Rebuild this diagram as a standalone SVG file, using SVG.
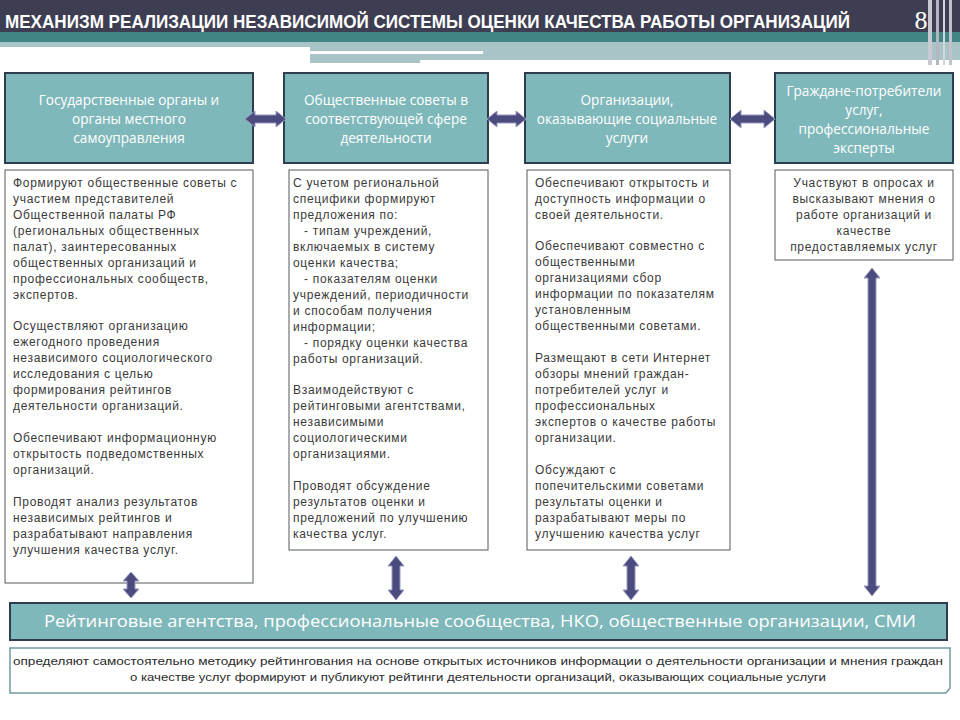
<svg xmlns="http://www.w3.org/2000/svg" width="960" height="720" viewBox="0 0 960 720">
<defs>
<style>
.hdr{fill:#7fb8bb;stroke:#2e3d4f;stroke-width:2}
.htx{font-family:"Open Sans","Liberation Sans",sans-serif;font-size:13.6px;fill:#ffffff;text-anchor:middle}
.box{fill:#ffffff;stroke:#555a60;stroke-width:1}
.btx{font-family:"Liberation Sans",Arial,sans-serif;font-size:12px;letter-spacing:0.7px;fill:#3a3a3a}
.arr{fill:#4b4b7e;stroke:#9a9ac4;stroke-width:1}
</style>
</defs>
<rect x="0" y="0" width="960" height="720" fill="#ffffff"/>
<!-- header -->
<g id="header">
<rect x="0" y="0" width="960" height="33" fill="#3e3e52"/>
<rect x="0" y="32" width="960" height="10" fill="#428585"/>
<rect x="0" y="42" width="310" height="5" fill="#a9c4c6"/>
<rect x="310" y="42" width="650" height="21" fill="#a9c4c6"/>
<rect x="310" y="51" width="173" height="3" fill="#ffffff"/>
<rect x="420" y="60" width="540" height="5" fill="#ffffff"/>
<rect x="928" y="0" width="4" height="65" fill="#c9c9d3"/>
<rect x="936" y="0" width="3" height="65" fill="#b6b6c2"/>
<rect x="943" y="0" width="2" height="65" fill="#d5d5dd"/>
<rect x="949" y="0" width="3" height="65" fill="#c2c2cc"/>
<text x="5" y="28" font-family="'Liberation Sans Narrow','Liberation Sans',Arial,sans-serif" font-weight="bold" font-size="18" fill="#ffffff" textLength="845" lengthAdjust="spacingAndGlyphs">МЕХАНИЗМ РЕАЛИЗАЦИИ НЕЗАВИСИМОЙ СИСТЕМЫ ОЦЕНКИ КАЧЕСТВА РАБОТЫ ОРГАНИЗАЦИЙ</text>
<text x="921" y="29" font-family="'Liberation Serif',serif" font-size="26" fill="#ffffff" text-anchor="middle">8</text>
</g>
<!-- top nodes -->
<g id="node-gov">
<rect class="hdr" x="5" y="73" width="248" height="90"/>
<text class="htx" x="129" y="105">Государственные органы и</text>
<text class="htx" x="129" y="124">органы местного</text>
<text class="htx" x="129" y="143">самоуправления</text>
</g>
<g id="node-councils">
<rect class="hdr" x="284" y="73" width="204" height="90"/>
<text class="htx" x="386" y="105">Общественные советы в</text>
<text class="htx" x="386" y="124">соответствующей сфере</text>
<text class="htx" x="386" y="143">деятельности</text>
</g>
<g id="node-orgs">
<rect class="hdr" x="525" y="73" width="205" height="90"/>
<text class="htx" x="627" y="105">Организации,</text>
<text class="htx" x="627" y="124">оказывающие социальные</text>
<text class="htx" x="627" y="143">услуги</text>
</g>
<g id="node-citizens">
<rect class="hdr" x="775" y="73" width="178" height="90"/>
<text class="htx" x="864" y="96">Граждане-потребители</text>
<text class="htx" x="864" y="115">услуг,</text>
<text class="htx" x="864" y="134">профессиональные</text>
<text class="htx" x="864" y="153">эксперты</text>
</g>
<!-- description boxes -->
<g id="desc-gov">
<rect class="box" x="5" y="170" width="248" height="413"/>
<text class="btx" x="13" y="187">Формируют общественные советы  с</text>
<text class="btx" x="13" y="203">участием представителей</text>
<text class="btx" x="13" y="219">Общественной палаты РФ</text>
<text class="btx" x="13" y="235">(региональных общественных</text>
<text class="btx" x="13" y="251">палат), заинтересованных</text>
<text class="btx" x="13" y="267">общественных организаций и</text>
<text class="btx" x="13" y="283">профессиональных сообществ,</text>
<text class="btx" x="13" y="299">экспертов.</text>
<text class="btx" x="13" y="330">Осуществляют организацию</text>
<text class="btx" x="13" y="346">ежегодного проведения</text>
<text class="btx" x="13" y="362">независимого социологического</text>
<text class="btx" x="13" y="378">исследования с целью</text>
<text class="btx" x="13" y="394">формирования рейтингов</text>
<text class="btx" x="13" y="410">деятельности организаций.</text>
<text class="btx" x="13" y="442">Обеспечивают информационную</text>
<text class="btx" x="13" y="458">открытость подведомственных</text>
<text class="btx" x="13" y="474">организаций.</text>
<text class="btx" x="13" y="506">Проводят анализ результатов</text>
<text class="btx" x="13" y="522">независимых  рейтингов и</text>
<text class="btx" x="13" y="538">разрабатывают направления</text>
<text class="btx" x="13" y="554">улучшения качества услуг.</text>
</g>
<g id="desc-councils">
<rect class="box" x="289" y="170" width="199" height="380"/>
<text class="btx" x="293" y="187">С учетом региональной</text>
<text class="btx" x="293" y="203">специфики формируют</text>
<text class="btx" x="293" y="219">предложения по:</text>
<text class="btx" x="304" y="235">- типам учреждений,</text>
<text class="btx" x="293" y="251">включаемых в систему</text>
<text class="btx" x="293" y="267">оценки качества;</text>
<text class="btx" x="304" y="283">- показателям оценки</text>
<text class="btx" x="293" y="299">учреждений, периодичности</text>
<text class="btx" x="293" y="315">и способам получения</text>
<text class="btx" x="293" y="331">информации;</text>
<text class="btx" x="304" y="347">- порядку оценки качества</text>
<text class="btx" x="293" y="363">работы организаций.</text>
<text class="btx" x="293" y="394">Взаимодействуют с</text>
<text class="btx" x="293" y="410">рейтинговыми агентствами,</text>
<text class="btx" x="293" y="426">независимыми</text>
<text class="btx" x="293" y="442">социологическими</text>
<text class="btx" x="293" y="458">организациями.</text>
<text class="btx" x="293" y="490">Проводят обсуждение</text>
<text class="btx" x="293" y="506">результатов оценки и</text>
<text class="btx" x="293" y="522">предложений по улучшению</text>
<text class="btx" x="293" y="538">качества услуг.</text>
</g>
<g id="desc-orgs">
<rect class="box" x="527" y="170" width="203" height="380"/>
<text class="btx" x="535" y="187">Обеспечивают открытость и</text>
<text class="btx" x="535" y="203">доступность  информации о</text>
<text class="btx" x="535" y="219">своей деятельности.</text>
<text class="btx" x="535" y="250">Обеспечивают совместно с</text>
<text class="btx" x="535" y="266">общественными</text>
<text class="btx" x="535" y="282">организациями  сбор</text>
<text class="btx" x="535" y="298">информации по показателям</text>
<text class="btx" x="535" y="314">установленным</text>
<text class="btx" x="535" y="330">общественными советами.</text>
<text class="btx" x="535" y="362">Размещают в сети Интернет</text>
<text class="btx" x="535" y="378">обзоры мнений граждан-</text>
<text class="btx" x="535" y="394">потребителей услуг и</text>
<text class="btx" x="535" y="410">профессиональных</text>
<text class="btx" x="535" y="426">экспертов о качестве работы</text>
<text class="btx" x="535" y="442">организации.</text>
<text class="btx" x="535" y="474">Обсуждают с</text>
<text class="btx" x="535" y="490">попечительскими советами</text>
<text class="btx" x="535" y="506">результаты оценки и</text>
<text class="btx" x="535" y="522">разрабатывают меры по</text>
<text class="btx" x="535" y="538">улучшению качества услуг</text>
</g>
<g id="desc-citizens">
<rect class="box" x="775" y="170" width="178" height="90"/>
<text class="btx" x="864" y="187" text-anchor="middle">Участвуют в опросах и</text>
<text class="btx" x="864" y="203" text-anchor="middle">высказывают  мнения о</text>
<text class="btx" x="864" y="219" text-anchor="middle">работе организаций и</text>
<text class="btx" x="864" y="235" text-anchor="middle">качестве</text>
<text class="btx" x="864" y="251" text-anchor="middle">предоставляемых услуг</text>
</g>
<!-- bottom nodes -->
<g id="node-agencies">
<rect x="10" y="603" width="937" height="37" fill="#7fb8bb" stroke="#2e3d4f" stroke-width="2"/>
<text x="480" y="627" font-family="'Liberation Sans Narrow','Open Sans',sans-serif" font-size="17" fill="#ffffff" text-anchor="middle" textLength="872" lengthAdjust="spacingAndGlyphs">Рейтинговые  агентства,  профессиональные  сообщества,  НКО,  общественные  организации,  СМИ</text>
</g>
<g id="desc-agencies">
<path d="M10 648 H950 V688 L946 693 H10 Z" fill="#ffffff" stroke="#6f9aa0" stroke-width="1.5"/>
<text x="478" y="665" font-family="'Liberation Sans',Arial,sans-serif" font-size="11" fill="#2a2a2a" text-anchor="middle" textLength="930" lengthAdjust="spacingAndGlyphs">определяют самостоятельно методику рейтингования  на основе открытых источников информации о деятельности организации  и мнения  граждан</text>
<text x="478" y="681" font-family="'Liberation Sans',Arial,sans-serif" font-size="11" fill="#2a2a2a" text-anchor="middle" textLength="696" lengthAdjust="spacingAndGlyphs">о качестве услуг формируют и публикуют рейтинги деятельности организаций,  оказывающих  социальные  услуги</text>
</g>
<!-- connectors -->
<g id="connectors">
<path class="arr" d="M245 119 L255 111 V115 H276 V111 L286 119 L276 127 V123 H255 V127 Z"/>
<path class="arr" d="M487 119 L497 111 V115 H516 V111 L526 119 L516 127 V123 H497 V127 Z"/>
<path class="arr" d="M730 119 L741 110 V115 H764 V110 L775 119 L764 128 V123 H741 V128 Z"/>
<path class="arr" d="M131 572 L139 581 H135 V589 H139 L131 598 L123 589 H127 V581 H123 Z"/>
<path class="arr" d="M396 556 L404 566 H400 V590 H404 L396 600 L388 590 H392 V566 H388 Z"/>
<path class="arr" d="M631 556 L639 566 H635 V590 H639 L631 600 L623 590 H627 V566 H623 Z"/>
<path class="arr" d="M872 268 L880 278 H876 V586 H880 L872 596 L864 586 H868 V278 H864 Z"/>
</g>
</svg>
